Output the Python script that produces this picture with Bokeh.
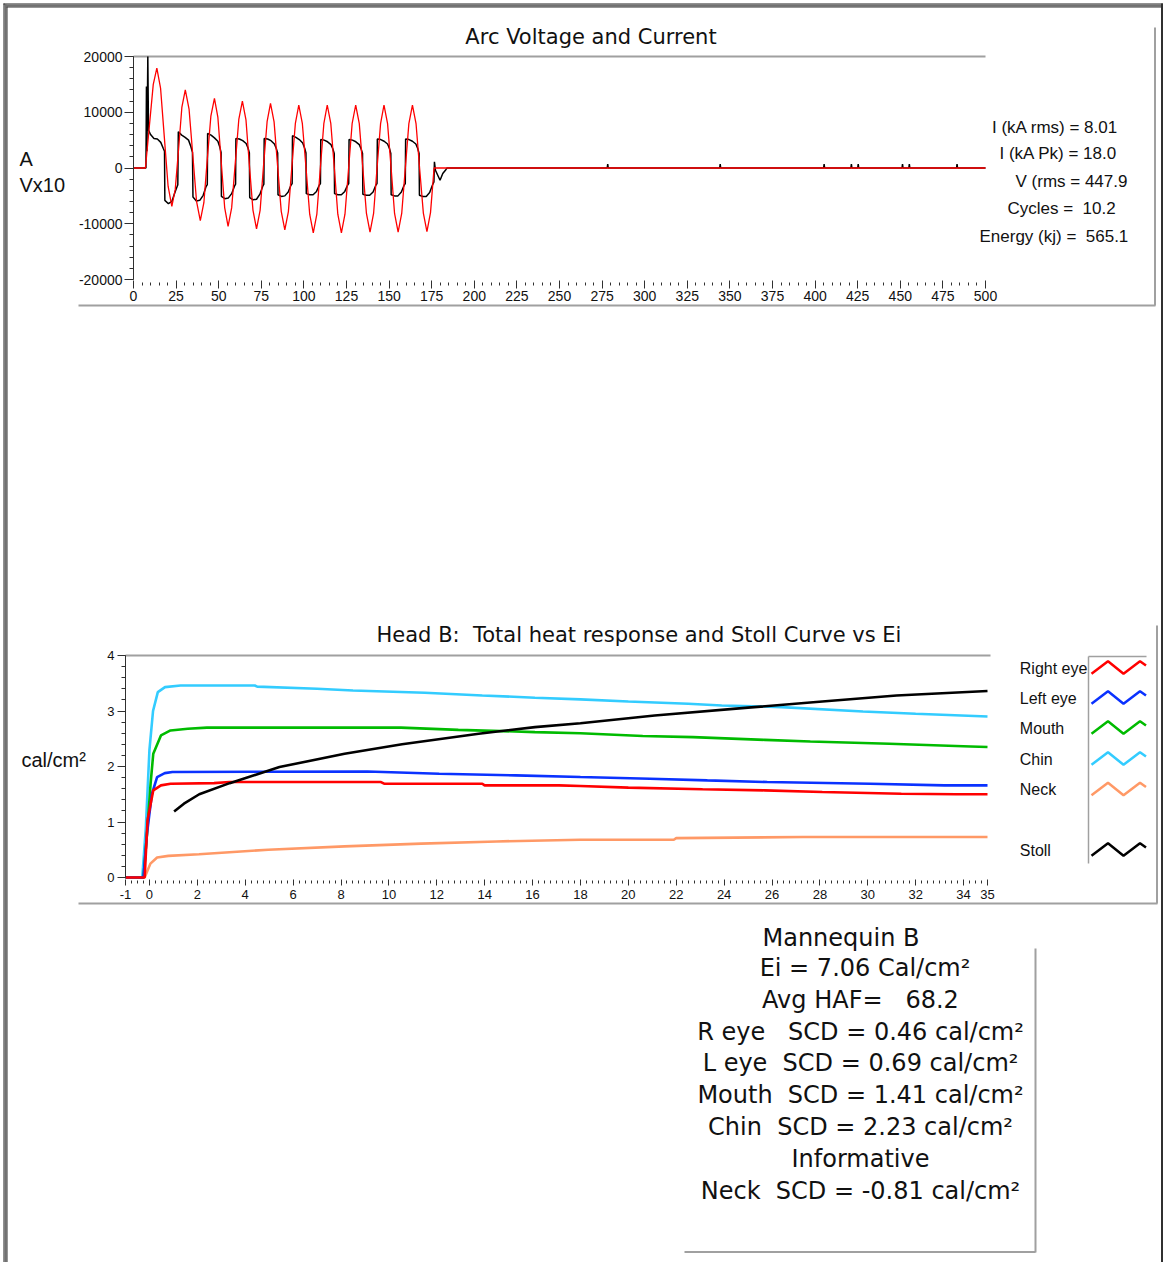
import re
from bokeh.plotting import figure
from bokeh.models import FixedTicker, Label, LinearAxis, Range1d
from bokeh.embed import file_html
from bokeh.resources import INLINE

# ---------------- Arc voltage and current (time in ms) ----------------
current_t = [0, 7, 9, 11.6, 13.7, 15.9, 18.1, 20.3, 22.5, 24.5, 26.5, 28.4, 30.4, 32.6, 34.8, 37.0, 39.2,
             41.3, 43.3, 45.4, 47.5, 49.5, 51.5, 53.5, 55.5, 57.6, 59.7, 61.8, 63.9, 66.0, 68.0, 70.1, 72.2,
             74.3, 76.3, 78.4, 80.4, 82.5, 84.6, 86.7, 88.8, 90.9, 92.9, 95.0, 97.0, 99.1, 101.3, 103.4, 105.5,
             107.6, 109.6, 111.7, 113.7, 115.8, 117.9, 119.9, 122.0, 124.1, 126.2, 128.3, 130.4, 132.5, 134.6,
             136.7, 138.8, 140.9, 142.9, 145.0, 147.0, 149.1, 151.2, 153.2, 155.3, 157.4, 159.5, 161.6, 163.7,
             165.8, 167.9, 170.1, 172.2, 174.3, 176.4, 500]
current_a = [0, 0, 6500, 15000, 17900, 14270, 5500, -3270, -6900, -3840, 3550, 10940, 14000, 10570, 2290, -6000, -9430,
             -6220, 1540, 9290, 12500, 9140, 1030, -7090, -10450, -7160, 780, 8710, 12000, 8650, 550, -7550, -10900,
             -7600, 350, 8300, 11600, 8280, 250, -7780, -11100, -7820, 100, 8020, 11300, 7940, -180, -8290, -11650,
             -8290, -180, 7940, 11300, 7940, -180, -8290, -11650, -8290, -180, 7940, 11300, 7960, -100,
             -8160, -11500, -8160, -100, 7960, 11300, 7960, -100, -8160, -11500, -8160, -100, 7960, 11300,
             7975, -50, -8075, -11400, -8000, 0, 0]

voltage_t = [0, 7.3, 7.6, 7.9, 8.4, 8.8, 10.0, 12.0, 14.0, 16.0, 17.5, 18.2,
             18.4, 20.5, 22.5, 24.5, 26.0,
             26.3, 28.3, 30.3, 32.3, 33.6, 34.6,
             34.9, 36.9, 38.9, 40.9, 42.5, 43.3,
             43.5, 45.5, 47.5, 49.5, 50.6, 51.4,
             51.6, 53.6, 55.6, 57.6, 59.2, 59.9,
             60.1, 62.1, 64.1, 66.1, 67.2, 68.0,
             68.2, 70.2, 72.2, 74.2, 75.8, 76.5,
             76.7, 78.7, 80.7, 82.7, 83.8, 84.6,
             84.8, 86.8, 88.8, 90.8, 92.4, 93.1,
             93.3, 95.3, 97.3, 99.3, 100.4, 101.2,
             101.4, 103.4, 105.4, 107.4, 109.0, 109.7,
             109.9, 111.9, 113.9, 115.9, 117.0, 117.8,
             118.0, 120.0, 122.0, 124.0, 125.6, 126.3,
             126.5, 128.5, 130.5, 132.5, 133.6, 134.4,
             134.6, 136.6, 138.6, 140.6, 142.2, 142.9,
             143.1, 145.1, 147.1, 149.1, 150.2, 151.0,
             151.2, 153.2, 155.2, 157.2, 158.8, 159.5,
             159.7, 161.7, 163.7, 165.7, 166.8, 167.6,
             167.8, 169.8, 171.8, 173.8, 175.4, 176.3,
             176.6, 177.2, 179.9, 181.5, 183.3, 184.0,
             278, 278.3, 278.6, 344, 344.3, 344.6, 405, 405.3, 405.6, 421, 421.3, 421.6,
             425, 425.3, 425.6, 451, 451.3, 451.6, 455, 455.3, 455.6, 483, 483.3, 483.6, 500]
voltage_v = [0, 0, 14600, 3000, 20000, 6800, 6000, 5300, 5200, 4600, 3500, 3000,
             -5800, -6400, -6000, -4200, -3000,
             6500, 5900, 5500, 5000, 3900, 2800,
             -5200, -5900, -5800, -4900, -3400, -3000,
             6200, 5900, 5400, 4800, 3800, 2800,
             -5100, -5500, -5400, -4600, -3300, -2900,
             5300, 5200, 4900, 4400, 3600, 2700,
             -5300, -5700, -5600, -4700, -3300, -2900,
             5300, 5200, 4900, 4300, 3500, 2700,
             -4800, -5100, -5000, -4300, -3100, -2800,
             5800, 5500, 5100, 4500, 3600, 2700,
             -4600, -4800, -4800, -4200, -3100, -2800,
             5100, 5000, 4700, 4200, 3400, 2600,
             -4600, -4800, -4800, -4200, -3100, -2800,
             5100, 5000, 4700, 4200, 3400, 2600,
             -4700, -4900, -4900, -4300, -3100, -2800,
             5200, 5100, 4800, 4300, 3500, 2600,
             -4800, -5000, -5000, -4300, -3100, -2800,
             5200, 5100, 4800, 4300, 3500, 2600,
             -4900, -5100, -5100, -4400, -3100, -2500,
             1100, -400, -2200, -1000, -300, 0,
             0, 700, 0, 0, 700, 0, 0, 700, 0, 0, 700, 0,
             0, 700, 0, 0, 700, 0, 0, 700, 0, 0, 700, 0, 0]

arc_x_ticks = list(range(0, 501, 25))
arc_x_minor = list(range(0, 501, 5))
arc_y_ticks = [-20000, -10000, 0, 10000, 20000]
arc_y_minor = list(range(-20000, 20001, 2000))
arc_title = "Arc Voltage and Current"
arc_ylabel = ["A", "Vx10"]
arc_stats = ["I (kA rms) = 8.01", "I (kA Pk) = 18.0", "V (rms = 447.9", "Cycles =  10.2", "Energy (kj) =  565.1"]

# ---------------- Head B heat response ----------------
right_eye_x = [-1, -0.2, -0.08, 0.16, 0.48, 0.88, 2.7, 3.35, 9.67, 9.8, 13.9, 14.0, 17.1, 18.0, 20.0, 23.1, 25.7, 28.1, 31.4, 33.7, 35]
right_eye_y = [0, 0, 1.03, 1.57, 1.66, 1.69, 1.70, 1.72, 1.72, 1.69, 1.69, 1.66, 1.66, 1.65, 1.62, 1.59, 1.57, 1.54, 1.51, 1.50, 1.50]
left_eye_x = [-1, -0.25, -0.1, 0.1, 0.32, 0.64, 0.96, 9.1, 12.1, 15.3, 18.0, 20.9, 23.3, 25.8, 30.1, 33.2, 35]
left_eye_y = [0, 0, 0.8, 1.5, 1.81, 1.88, 1.90, 1.91, 1.87, 1.84, 1.81, 1.78, 1.75, 1.72, 1.69, 1.66, 1.66]
mouth_x = [-1, -0.25, -0.1, 0.05, 0.16, 0.48, 0.88, 1.6, 2.4, 10.5, 12.9, 16.1, 18.0, 20.6, 22.7, 25.7, 27.6, 30.9, 34.3, 35]
mouth_y = [0, 0, 0.8, 1.7, 2.23, 2.56, 2.65, 2.68, 2.70, 2.70, 2.66, 2.62, 2.60, 2.55, 2.53, 2.48, 2.45, 2.41, 2.36, 2.35]
chin_x = [-1, -0.3, -0.15, 0.0, 0.15, 0.35, 0.65, 1.3, 4.4, 4.5, 7.0, 8.5, 11.5, 13.9, 16.1, 18.0, 20.0, 22.5, 23.9, 26.4, 29.8, 32.0, 35]
chin_y = [0, 0, 0.9, 2.3, 3.0, 3.34, 3.43, 3.46, 3.46, 3.44, 3.40, 3.37, 3.33, 3.28, 3.24, 3.21, 3.17, 3.13, 3.10, 3.07, 2.99, 2.95, 2.90]
neck_x = [-1, -0.2, 0.04, 0.32, 0.79, 2.07, 4.96, 8.15, 11.35, 14.5, 18.0, 21.9, 22.0, 27.3, 35]
neck_y = [0, 0, 0.25, 0.36, 0.39, 0.42, 0.50, 0.56, 0.61, 0.65, 0.68, 0.68, 0.71, 0.73, 0.73]
stoll_x = [1.03, 1.44, 2.08, 3.35, 5.43, 8.15, 10.55, 13.75, 16.1, 18.0, 21.1, 25.0, 28.1, 31.2, 35]
stoll_y = [1.19, 1.33, 1.50, 1.70, 1.99, 2.23, 2.40, 2.59, 2.71, 2.78, 2.92, 3.06, 3.17, 3.28, 3.36]

heat_x_ticks = [-1, 0, 2, 4, 6, 8, 10, 12, 14, 16, 18, 20, 22, 24, 26, 28, 30, 32, 34, 35]
heat_x_minor = [i * 0.25 - 1 for i in range(145)]
heat_y_ticks = [0, 1, 2, 3, 4]
heat_y_minor = [i * 0.2 for i in range(21)]
heat_title = "Head B:  Total heat response and Stoll Curve vs Ei"
heat_ylabel = "cal/cm²"
legend_names = ["Right eye", "Left eye", "Mouth", "Chin", "Neck", "Stoll"]
summary_lines = ["Mannequin B", "Ei = 7.06 Cal/cm²", "Avg HAF=   68.2",
                 "R eye   SCD = 0.46 cal/cm²", "L eye  SCD = 0.69 cal/cm²",
                 "Mouth  SCD = 1.41 cal/cm²", "Chin  SCD = 2.23 cal/cm²",
                 "Informative", "Neck  SCD = -0.81 cal/cm²"]

# ---------------- styles / layout (page pixel coordinates) ----------------
C_RED, C_BLUE, C_GREEN, C_CYAN, C_ORANGE, C_BLACK = "#ff0000", "#0a32ff", "#00bb00", "#33ccff", "#ff9966", "#000000"
PANEL_GRAY = "#a0a0a0"
TEXT = "#111111"
SANS = "Liberation Sans"
TITLE_FONT = "DejaVu Sans"
W, H = 1163, 1262


def page_range(v0, p0, v1, p1, pa, pb):
    k = (v1 - v0) / (p1 - p0)
    return Range1d(start=v0 + (pa - p0) * k, end=v0 + (pb - p0) * k)


def keep_spaces(s):
    # repeated spaces would collapse in SVG text; keep them with no-break spaces
    return re.sub(r"(?<= ) ", "\u00a0", s)


p = figure(width=W, height=H, x_range=Range1d(0, W), y_range=Range1d(H, 0), x_axis_type=None, y_axis_type=None,
           title=None, output_backend="svg", toolbar_location=None, min_border=0)
p.background_fill_color = "white"
p.border_fill_color = "white"
p.outline_line_color = None
p.extra_x_ranges = {"arc_t": page_range(0, 133, 500, 985, 0, W), "heat_x": page_range(-1, 125, 35, 987, 0, W)}
p.extra_y_ranges = {"arc_v": page_range(-20000, 279, 20000, 56, H, 0), "heat_y": page_range(0, 877, 4, 655, H, 0)}


def add_axes(xr, yr, xt, xm, yt, ym, xbounds, ybounds, tick_size, xtick, ytick):
    xa = LinearAxis(x_range_name=xr, y_range_name=yr, fixed_location=ybounds[0], bounds=xbounds,
                    ticker=FixedTicker(ticks=xt, minor_ticks=xm))
    ya = LinearAxis(x_range_name=xr, y_range_name=yr, fixed_location=xbounds[0], bounds=ybounds,
                    ticker=FixedTicker(ticks=yt, minor_ticks=ym))
    xa.axis_line_color = None
    xa.major_tick_in, xa.major_tick_out = xtick[0], xtick[1]
    xa.minor_tick_in, xa.minor_tick_out = xtick[2], xtick[3]
    xa.major_label_standoff = xtick[4]
    ya.axis_line_color = "#303030"
    ya.major_tick_in, ya.major_tick_out = 0, ytick[0]
    ya.minor_tick_in, ya.minor_tick_out = 0, ytick[1]
    ya.major_label_standoff = ytick[2]
    for a, ticks in ((xa, xt), (ya, yt)):
        a.major_tick_line_color = "#303030"
        a.minor_tick_line_color = "#303030"
        a.major_label_text_font = SANS
        a.major_label_text_font_size = f"{tick_size}px"
        a.major_label_text_color = TEXT
        a.major_label_overrides = {t: str(t) for t in ticks if t < 0}
    p.add_layout(xa, "below")
    p.add_layout(ya, "left")


def add_label(text, px, py, font, size, align="left"):
    p.add_layout(Label(x=px, y=py, text=keep_spaces(text), text_font=font, text_font_size=f"{size}px",
                       text_align=align, text_baseline="middle", text_color=TEXT))


# page frame and panel edges (decoration)
deco_lines = [
    ([3.5, 3.5], [3, H], "#202020", 1), ([5, 5], [4, H], "#707070", 2), ([6.5, 6.5], [6, H], "#303030", 1),
    ([3, W], [3.5, 3.5], "#202020", 1), ([4, W], [5, 5], "#707070", 2), ([6, W], [6.5, 6.5], "#303030", 1),
    ([1161.5, 1161.5], [3, H], "#303030", 2),
    ([133, 985], [56, 56], PANEL_GRAY, 2),
    ([78, 1155], [305, 305], PANEL_GRAY, 2), ([1154.5, 1154.5], [27, 305], PANEL_GRAY, 2),
    ([125, 990], [655, 655], PANEL_GRAY, 2),
    ([78, 1157], [903, 903], PANEL_GRAY, 2), ([1156.5, 1156.5], [625, 903], PANEL_GRAY, 2),
    ([1088, 1146], [656, 656], PANEL_GRAY, 1.5), ([1088, 1088], [656, 863], PANEL_GRAY, 1.5),
    ([1035, 1035], [948, 1252], PANEL_GRAY, 2), ([684, 1035], [1251.5, 1251.5], PANEL_GRAY, 2),
]
for xs, ys, c, w in deco_lines:
    p.line(xs, ys, line_color=c, line_width=w)

# ======== Arc chart ========
add_axes("arc_t", "arc_v", arc_x_ticks, arc_x_minor, arc_y_ticks, arc_y_minor, (0, 500), (-20000, 20000),
         14, (-1, 9, -3, 6, 2), (9, 4, 2))
p.line(voltage_t, voltage_v, x_range_name="arc_t", y_range_name="arc_v", line_color=C_BLACK, line_width=1.5)
p.line(current_t, current_a, x_range_name="arc_t", y_range_name="arc_v", line_color=C_RED, line_width=1.3)
add_label(arc_title, 590.5, 36, TITLE_FONT, 21, "center")
add_label(arc_ylabel[0], 19, 158.5, SANS, 20)
add_label(arc_ylabel[1], 19, 184.5, SANS, 20)
stat_pos = [(991.5, 126.5), (999, 153.3), (1015, 181), (1007, 208.3), (979, 235.5)]
for s, (sx, sy) in zip(arc_stats, stat_pos):
    add_label(s, sx, sy, SANS, 17)

# ======== Heat chart ========
add_axes("heat_x", "heat_y", heat_x_ticks, heat_x_minor, heat_y_ticks, heat_y_minor, (-1, 35), (0, 4),
         13, (-2, 8, -3, 6, 4), (8, 4, 3))
series = [(neck_x, neck_y, C_ORANGE), (chin_x, chin_y, C_CYAN), (mouth_x, mouth_y, C_GREEN),
          (left_eye_x, left_eye_y, C_BLUE), (right_eye_x, right_eye_y, C_RED), (stoll_x, stoll_y, C_BLACK)]
for xs, ys, c in series:
    p.line(xs, ys, x_range_name="heat_x", y_range_name="heat_y", line_color=c, line_width=2.6)
add_label(heat_title, 638.5, 634, TITLE_FONT, 21, "center")
add_label(heat_ylabel, 21, 759, SANS, 20)

legend_colors = [C_RED, C_BLUE, C_GREEN, C_CYAN, C_ORANGE, C_BLACK]
legend_offsets = [0, 30, 60, 91, 121.5, 182]
icon_dx = [0, 16.5, 32, 48.5, 54.5]
icon_dy = [0, -12.6, 0, -12.6, -8.3]
for name, c, off in zip(legend_names, legend_colors, legend_offsets):
    add_label(name, 1019.3, 667.5 + off, SANS, 16)
    p.line([1091 + dx for dx in icon_dx], [673.3 + off + dy for dy in icon_dy], line_color=c, line_width=2.5)

summary_x = [840.5, 864.5, 860, 860, 860, 860, 860, 860, 860]
summary_mid = [937.5, 967.5, 999, 1031, 1062.5, 1094, 1126.5, 1158, 1190]
for s, sx, sy in zip(summary_lines, summary_x, summary_mid):
    add_label(s, sx, sy, TITLE_FONT, 24, "center")

open("out.html", "w").write(file_html(p, INLINE))
